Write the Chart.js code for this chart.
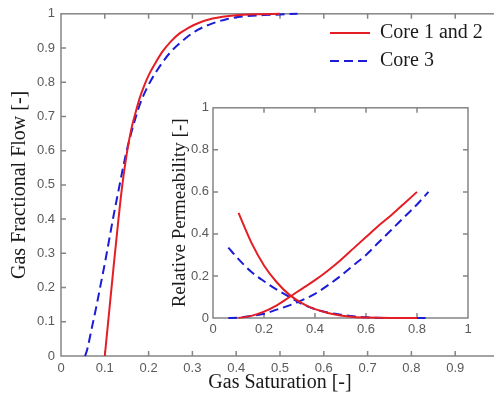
<!DOCTYPE html>
<html lang="en">
<head>
<meta charset="utf-8">
<title>Gas Fractional Flow</title>
<script src="https://cdn.jsdelivr.net/npm/chart.js@4.4.1/dist/chart.umd.min.js"></script>
<style>
  html, body { margin: 0; padding: 0; background: #fff; overflow: hidden; }
  #wrap { position: relative; width: 494px; height: 404px; overflow: hidden; }
  #main { position: absolute; left: 0; top: 0; }
  #inset { position: absolute; left: 160px; top: 96px; background: #fff; }
</style>
<script>
// main plot: gas fractional flow vs gas saturation
const satCore12  = [0.1, 0.11, 0.12, 0.13, 0.14, 0.15, 0.16, 0.17, 0.18, 0.19, 0.2, 0.215, 0.232, 0.25, 0.27, 0.29, 0.31, 0.346, 0.4, 0.45, 0.5];
const flowCore12 = [0, 0.13, 0.26, 0.385, 0.5, 0.59, 0.66, 0.71, 0.755, 0.79, 0.82, 0.855, 0.89, 0.918, 0.942, 0.958, 0.971, 0.986, 0.996, 0.999, 1];
const satCore3   = [0.055, 0.06, 0.07, 0.08, 0.09, 0.1, 0.11, 0.12, 0.13, 0.14, 0.15, 0.16, 0.17, 0.18, 0.195, 0.217, 0.25, 0.286, 0.312, 0.346, 0.38, 0.42, 0.48, 0.54];
const flowCore3  = [0, 0.02, 0.08, 0.14, 0.205, 0.27, 0.34, 0.41, 0.475, 0.54, 0.6, 0.65, 0.695, 0.735, 0.78, 0.83, 0.888, 0.93, 0.953, 0.972, 0.985, 0.993, 0.997, 1];

// inset: relative permeabilities
const krgSat12 = [0.1, 0.15, 0.2, 0.25, 0.3, 0.35, 0.4, 0.45, 0.5, 0.55, 0.6, 0.65, 0.7, 0.75, 0.8];
const krg12    = [0, 0.01, 0.03, 0.06, 0.1, 0.14, 0.18, 0.225, 0.275, 0.33, 0.385, 0.44, 0.49, 0.545, 0.6];
const krwSat12 = [0.1, 0.15, 0.2, 0.25, 0.3, 0.35, 0.4, 0.45, 0.5, 0.55, 0.6, 0.7, 0.8];
const krw12    = [0.5, 0.36, 0.25, 0.17, 0.11, 0.07, 0.042, 0.024, 0.012, 0.005, 0.002, 0, 0];
const krgSat3  = [0.06, 0.1, 0.15, 0.2, 0.25, 0.3, 0.35, 0.4, 0.45, 0.5, 0.55, 0.6, 0.65, 0.7, 0.75, 0.8, 0.845];
const krg3     = [0, 0.002, 0.01, 0.02, 0.04, 0.06, 0.085, 0.115, 0.155, 0.2, 0.25, 0.3, 0.36, 0.42, 0.48, 0.54, 0.6];
const krwSat3  = [0.06, 0.1, 0.15, 0.2, 0.25, 0.3, 0.35, 0.4, 0.45, 0.5, 0.55, 0.6, 0.7, 0.8, 0.85];
const krw3     = [0.335, 0.28, 0.22, 0.175, 0.135, 0.1, 0.066, 0.042, 0.026, 0.016, 0.008, 0.003, 0, 0, 0];

const seriesNames = ['Core 1 and 2', 'Core 3'];
const RED = '#e41e24';
const BLUE = '#1c1cd8';
const DASH = [9, 5];

function pts(xs, ys) {
    return xs.map((x, i) => ({ x: x, y: ys[i] }));
}

function fmt(v) {
    return String(Math.round(v * 10) / 10);
}

// axes box with inward ticks on all four sides (matlab look)
const boxTicks = {
    id: 'boxTicks',
    beforeDatasetsDraw(chart, args, opts) {
        const ctx = chart.ctx, a = chart.chartArea;
        const xs = chart.scales.x, ys = chart.scales.y;
        ctx.save();
        ctx.strokeStyle = '#858585';
        ctx.lineWidth = 1.5;
        ctx.strokeRect(a.left, a.top, a.right - a.left, a.bottom - a.top);
        ctx.beginPath();
        xs.ticks.forEach(t => {
            if (t.value <= xs.min || t.value >= xs.max) return;
            const px = xs.getPixelForValue(t.value);
            ctx.moveTo(px, a.bottom); ctx.lineTo(px, a.bottom - opts.len);
            ctx.moveTo(px, a.top); ctx.lineTo(px, a.top + opts.len);
        });
        ys.ticks.forEach(t => {
            if (t.value <= ys.min || t.value >= ys.max) return;
            const py = ys.getPixelForValue(t.value);
            ctx.moveTo(a.left, py); ctx.lineTo(a.left + opts.len, py);
            ctx.moveTo(a.right, py); ctx.lineTo(a.right - opts.len, py);
        });
        ctx.stroke();
        ctx.restore();
    }
};

const lineLegend = {
    id: 'lineLegend',
    afterDraw(chart, args, opts) {
        if (!opts.show) return;
        const ctx = chart.ctx;
        ctx.save();
        ctx.font = '20px "Liberation Serif", "Times New Roman", serif';
        ctx.textBaseline = 'middle';
        ctx.fillStyle = '#1a1a1a';
        chart.data.datasets.forEach((ds, i) => {
            const y = opts.y + i * opts.gap;
            ctx.strokeStyle = ds.borderColor;
            ctx.lineWidth = ds.borderWidth;
            ctx.setLineDash(ds.borderDash || []);
            ctx.beginPath();
            ctx.moveTo(opts.x, y);
            ctx.lineTo(opts.x + 40, y);
            ctx.stroke();
            ctx.fillText(ds.label, opts.x + 50, y);
        });
        ctx.restore();
    }
};

Chart.defaults.font.family = '"Liberation Sans", Arial, sans-serif';
Chart.defaults.font.size = 13;
Chart.defaults.color = '#5a5a5a';

function line(label, data, color, dash) {
    return {
        label: label,
        data: data,
        borderColor: color,
        borderWidth: 2,
        borderDash: dash || [],
        pointRadius: 0,
        cubicInterpolationMode: 'monotone',
        clip: false
    };
}

function scale(step, pad, fitFn, title) {
    return {
        type: 'linear', min: 0, max: 1,
        grid: { display: false, drawTicks: false },
        border: { display: false },
        ticks: { stepSize: step, padding: pad, callback: fmt, maxRotation: 0, autoSkip: false },
        title: title,
        afterFit: fitFn
    };
}

function drawCharts() {
    const titleFont = { family: '"Liberation Serif", "Times New Roman", serif', size: 20 };
    new Chart('main', {
        type: 'line',
        data: {
            datasets: [
                line(seriesNames[0], pts(satCore12, flowCore12), RED),
                line(seriesNames[1], pts(satCore3, flowCore3), BLUE, DASH)
            ]
        },
        options: {
            responsive: false,
            animation: false,
            layout: { padding: { top: 10, right: 11, left: 0, bottom: 0 } },
            plugins: {
                legend: { display: false },
                tooltip: { enabled: false },
                boxTicks: { len: 5 },
                lineLegend: { show: true, x: 330, y: 33, gap: 28 }
            },
            scales: {
                x: scale(0.1, 5, s => { s.height = 48; },
                    { display: true, text: 'Gas Saturation [-]', font: titleFont, color: '#1a1a1a', padding: { top: 0, bottom: 9 } }),
                y: scale(0.1, 6, s => { s.width = 61; },
                    { display: true, text: 'Gas Fractional Flow [-]', font: titleFont, color: '#1a1a1a', padding: { top: 8, bottom: 0 } })
            }
        },
        plugins: [boxTicks, lineLegend]
    });

    new Chart('inset', {
        type: 'line',
        data: {
            datasets: [
                line(seriesNames[0], pts(krgSat12, krg12), RED),
                line(seriesNames[0], pts(krwSat12, krw12), RED),
                line(seriesNames[1], pts(krgSat3, krg3), BLUE, DASH),
                line(seriesNames[1], pts(krwSat3, krw3), BLUE, DASH)
            ]
        },
        options: {
            responsive: false,
            animation: false,
            layout: { padding: { top: 10, right: 10, left: 0, bottom: 0 } },
            plugins: {
                legend: { display: false },
                tooltip: { enabled: false },
                boxTicks: { len: 5 },
                lineLegend: { show: false }
            },
            scales: {
                x: scale(0.2, 4, s => { s.height = 28; }, { display: false }),
                y: scale(0.2, 4, s => { s.width = 53; },
                    { display: true, text: 'Relative Permeability [-]', font: { family: titleFont.family, size: 19 }, color: '#1a1a1a', padding: { top: 9, bottom: 0 } })
            }
        },
        plugins: [boxTicks, lineLegend]
    });
}
</script>
</head>
<body onload="drawCharts()">
<div id="wrap">
  <canvas id="main" width="510" height="404"></canvas>
  <canvas id="inset" width="318" height="250"></canvas>
</div>
</body>
</html>
